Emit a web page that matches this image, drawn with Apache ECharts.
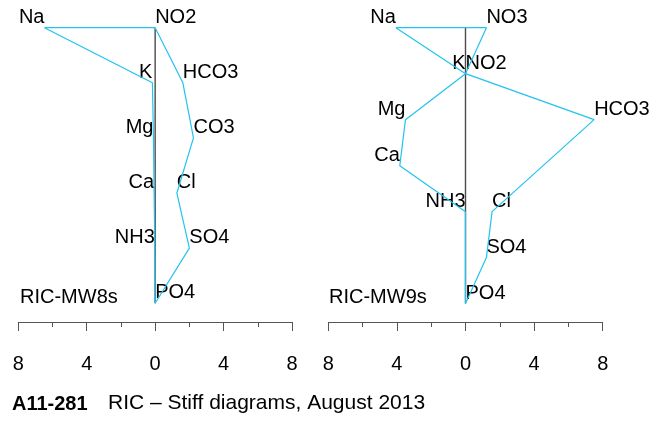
<!DOCTYPE html>
<html><head><meta charset="utf-8">
<script src="https://cdn.jsdelivr.net/npm/echarts@6/dist/echarts.min.js"></script>
<style>html,body{margin:0;padding:0;background:#fff}#c{width:668px;height:421px}</style>
</head><body><div id="c"></div>
<script>
// ---------- data ----------
const panelNames = ['RIC-MW8s', 'RIC-MW9s'];
const chartCode = 'A11-281';
const chartTitle = 'RIC – Stiff diagrams, August 2013';

// RIC-MW8s (rows from top)
const mw8CationNames  = ['Na', 'K', 'Mg', 'Ca', 'NH3'];
const mw8CationRows   = [0, 1, 2, 3, 4];
const mw8CationValues = [6.47, 0.16, 0.10, 0.06, 0.02];
const mw8AnionNames   = ['NO2', 'HCO3', 'CO3', 'Cl', 'SO4', 'PO4'];
const mw8AnionRows    = [0, 1, 2, 3, 4, 5];
const mw8AnionValues  = [0, 1.62, 2.24, 1.27, 2.0, 0];

// RIC-MW9s
const mw9CationNames  = ['Na', 'K', 'Mg', 'Ca', 'NH3'];
const mw9CationRows   = [0, 1, 2, 3, 4];
const mw9CationValues = [4.06, 0, 3.5, 3.83, 0];
const mw9AnionNames   = ['NO3', 'NO2', 'HCO3', 'Cl', 'SO4', 'PO4'];
const mw9AnionRows    = [0, 1, 2, 4, 5, 6];
const mw9AnionValues  = [1.22, 0, 7.5, 1.55, 1.22, 0];

// ---------- build ----------
const FONT = 'Liberation Sans, Arial, sans-serif';
const LINE = '#22c3ef';

function panelSeries(idx, cN, cR, cV, aN, aR, aV) {
  const cat = cV.map((v, i) => [-v, cR[i], cN[i]]);
  const an = aV.map((v, i) => [v, aR[i], aN[i]]);
  const poly = cat.map(p => [p[0], p[1]])
    .concat(an.slice().reverse().map(p => [p[0], p[1]]))
    .concat([[cat[0][0], cat[0][1]]]);
  const lastRow = Math.max.apply(null, aR.concat(cR));
  const lbl = (align) => ({
    show: true, position: 'top', distance: 0, align: align, opacity: 1,
    formatter: p => p.data[2], fontFamily: FONT, fontSize: 20, color: '#000'
  });
  return [
    { type: 'line', xAxisIndex: idx, yAxisIndex: idx, data: [[0, 0], [0, lastRow]],
      symbol: 'none', clip: false, silent: true,
      lineStyle: { color: '#4a4a4a', width: 1.4 } },
    { type: 'line', xAxisIndex: idx, yAxisIndex: idx, data: poly,
      symbol: 'none', clip: false, silent: true,
      lineStyle: { color: LINE, width: 1.2 } },
    { type: 'scatter', xAxisIndex: idx, yAxisIndex: idx, data: cat,
      symbolSize: 1, itemStyle: { color: 'rgba(0,0,0,0)', opacity: 1 }, clip: false, silent: true,
      label: lbl('right') },
    { type: 'scatter', xAxisIndex: idx, yAxisIndex: idx, data: an,
      symbolSize: 1, itemStyle: { color: 'rgba(0,0,0,0)', opacity: 1 }, clip: false, silent: true,
      label: lbl('left') }
  ];
}

function xAx(idx) {
  return {
    gridIndex: idx, type: 'value', min: -8, max: 8, interval: 4, position: 'bottom',
    axisLine: { show: true, onZero: false, lineStyle: { color: '#555', width: 1 } },
    axisTick: { show: true, length: 9, lineStyle: { color: '#555', width: 1 } },
    minorTick: { show: true, splitNumber: 2, length: 5, lineStyle: { color: '#555', width: 1 } },
    splitLine: { show: false }, minorSplitLine: { show: false },
    axisLabel: { margin: 32, fontFamily: FONT, fontSize: 20, color: '#000',
      formatter: v => String(Math.abs(v)) }
  };
}

const option = {
  animation: false,
  backgroundColor: '#fff',
  title: [
    { text: panelNames[0], left: 20, top: 287, padding: 0,
      textStyle: { fontFamily: FONT, fontSize: 20, fontWeight: 'normal', color: '#000' } },
    { text: panelNames[1], left: 329, top: 287, padding: 0,
      textStyle: { fontFamily: FONT, fontSize: 20, fontWeight: 'normal', color: '#000' } },
    { text: chartCode, left: 12, top: 394, padding: 0,
      textStyle: { fontFamily: FONT, fontSize: 20, fontWeight: 'bold', color: '#000' } },
    { text: chartTitle, left: 108, top: 393, padding: 0,
      textStyle: { fontFamily: FONT, fontSize: 21, fontWeight: 'normal', color: '#000' } }
  ],
  grid: [
    { left: 18.3, width: 273.7, top: 27.7, height: 294.3 },
    { left: 328.3, width: 274.4, top: 27.7, height: 294.3 }
  ],
  xAxis: [xAx(0), xAx(1)],
  yAxis: [
    { gridIndex: 0, type: 'value', inverse: true, min: 0, max: 5.34, show: false },
    { gridIndex: 1, type: 'value', inverse: true, min: 0, max: 6.4, show: false }
  ],
  series: []
    .concat(panelSeries(0, mw8CationNames, mw8CationRows, mw8CationValues, mw8AnionNames, mw8AnionRows, mw8AnionValues))
    .concat(panelSeries(1, mw9CationNames, mw9CationRows, mw9CationValues, mw9AnionNames, mw9AnionRows, mw9AnionValues))
};

echarts.init(document.getElementById('c'), null, { renderer: 'canvas' }).setOption(option);
</script>
</body></html>
